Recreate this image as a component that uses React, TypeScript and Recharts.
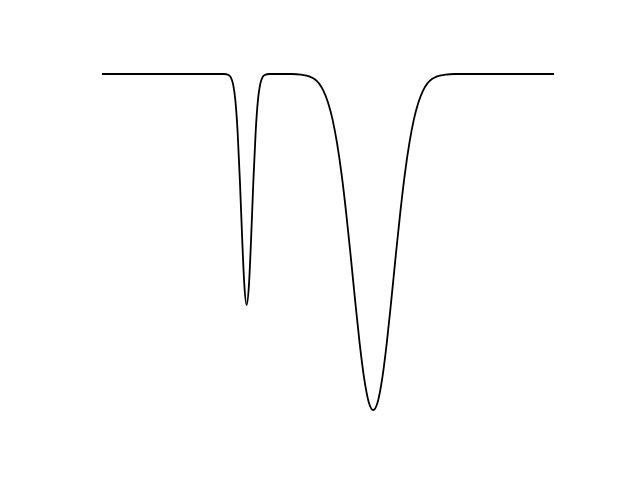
import React from 'react';
import { LineChart, Line, XAxis, YAxis } from 'recharts';

// positions along the trace (0..10 across the plotted span)
const xValues = [
    0, 1, 2, 2.7,
    2.8, 2.85, 2.9, 2.95, 3.0, 3.05, 3.1, 3.15, 3.2, 3.25, 3.3, 3.35, 3.4, 3.45, 3.5, 3.55, 3.6, 3.7,
    4.2, 4.4, 4.6, 4.7, 4.8, 4.9, 5.0, 5.1, 5.2, 5.3, 5.4, 5.5, 5.6, 5.7, 5.8, 5.9,
    6.0,
    6.1, 6.2, 6.3, 6.4, 6.5, 6.6, 6.7, 6.8, 6.9, 7.0, 7.1, 7.2, 7.3, 7.4, 7.6, 7.8,
    8, 9, 10,
];

// relative level (1 = flat baseline, 0 = bottom of the deep dip)
const yValues = [
    1, 1, 1, 1,
    0.997, 0.99, 0.97, 0.922, 0.829, 0.685, 0.514, 0.37, 0.3125, 0.37, 0.514, 0.685, 0.829, 0.922, 0.97, 0.99, 0.997, 1,
    1, 0.998, 0.992, 0.985, 0.972, 0.95, 0.915, 0.865, 0.794, 0.702, 0.589, 0.461, 0.326, 0.199, 0.094, 0.024,
    0,
    0.024, 0.094, 0.199, 0.326, 0.461, 0.589, 0.702, 0.794, 0.865, 0.915, 0.95, 0.972, 0.985, 0.992, 0.998, 1,
    1, 1, 1,
];

const data = xValues.map((x, i) => ({ x, y: yValues[i] }));

export default function App() {
    return (
        <div style={{ position: 'absolute', left: 0, top: 0, width: 640, height: 480, background: '#fff' }}>
            <LineChart width={640} height={480} data={data} margin={{ top: 74, right: 86, bottom: 70, left: 102 }}>
                <XAxis type="number" dataKey="x" domain={[0, 10]} hide />
                <YAxis type="number" domain={[0, 1]} hide />
                <Line
                    type="monotone"
                    dataKey="y"
                    stroke="#000"
                    strokeWidth={1.8}
                    dot={false}
                    isAnimationActive={false}
                />
            </LineChart>
        </div>
    );
}
